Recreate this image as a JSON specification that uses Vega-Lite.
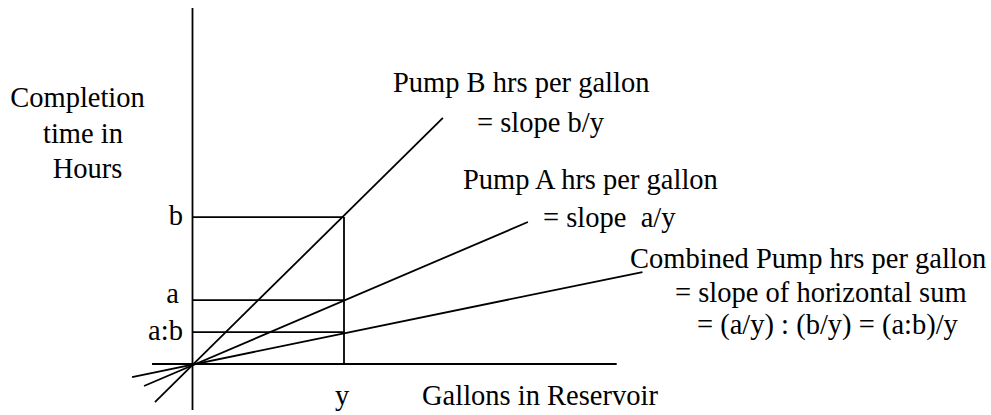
{
  "$schema": "https://vega.github.io/schema/vega-lite/v6.json",
  "width": 991,
  "height": 415,
  "autosize": {"type": "fit", "contains": "padding"},
  "padding": 0,
  "background": "white",
  "config": {"view": {"stroke": null}},
  "datasets": {
    "segments": [
      {"name": "vertical axis", "x": 0, "x2": 0, "y": 23.5, "y2": -3.04},
      {"name": "horizontal axis", "x": -2.67, "x2": 28.0, "y": 0, "y2": 0},
      {"name": "b level", "x": 0, "x2": 10, "y": 9.7, "y2": 9.7},
      {"name": "a level", "x": 0, "x2": 10, "y": 4.22, "y2": 4.22},
      {"name": "a:b level", "x": 0, "x2": 10, "y": 2.11, "y2": 2.11},
      {"name": "y gallons", "x": 10, "x2": 10, "y": 0, "y2": 9.7},
      {"name": "Pump B", "x": -2.48, "x2": 16.53, "y": -2.51, "y2": 16.24},
      {"name": "Pump A", "x": -3.2, "x2": 22.14, "y": -1.45, "y2": 9.37},
      {"name": "Combined", "x": -3.99, "x2": 29.7, "y": -0.86, "y2": 6.07}
    ],
    "centerLabels": [
      {"label": "Completion", "x": -7.59, "y": 16.96},
      {"label": "time in", "x": -7.23, "y": 14.59},
      {"label": "Hours", "x": -6.93, "y": 12.28},
      {"label": "y", "x": 9.87, "y": -2.71}
    ],
    "rightLabels": [
      {"label": "b", "x": -0.63, "y": 9.17},
      {"label": "a", "x": -0.89, "y": 4.03},
      {"label": "a:b", "x": -0.63, "y": 1.58}
    ],
    "leftLabels": [
      {"label": "Gallons in Reservoir", "x": 15.15, "y": -2.71},
      {"label": "Pump B hrs per gallon", "x": 13.23, "y": 17.95},
      {"label": "= slope b/y", "x": 18.78, "y": 15.31},
      {"label": "Pump A hrs per gallon", "x": 17.85, "y": 11.55},
      {"label": "= slope \u00a0a/y", "x": 23.14, "y": 9.04},
      {"label": "Combined Pump hrs per gallon", "x": 28.88, "y": 6.34},
      {"label": "= slope of horizontal sum", "x": 31.85, "y": 4.09},
      {"label": "= (a/y) : (b/y) = (a:b)/y", "x": 33.3, "y": 1.98}
    ]
  },
  "layer": [
    {
      "data": {"name": "segments"},
      "mark": {"type": "rule", "color": "black", "strokeWidth": 1.8},
      "encoding": {
        "x": {"field": "x", "type": "quantitative", "scale": {"domain": [-12.706, 52.706], "nice": false, "zero": false}, "axis": null},
        "x2": {"field": "x2"},
        "y": {"field": "y", "type": "quantitative", "scale": {"domain": [-3.366, 24.026], "nice": false, "zero": false}, "axis": null},
        "y2": {"field": "y2"}
      }
    },
    {
      "data": {"name": "centerLabels"},
      "mark": {"type": "text", "align": "center", "baseline": "alphabetic", "font": "Liberation Serif", "fontSize": 28.5, "color": "black"},
      "encoding": {
        "x": {"field": "x", "type": "quantitative"},
        "y": {"field": "y", "type": "quantitative"},
        "text": {"field": "label"}
      }
    },
    {
      "data": {"name": "rightLabels"},
      "mark": {"type": "text", "align": "right", "baseline": "alphabetic", "font": "Liberation Serif", "fontSize": 28.5, "color": "black"},
      "encoding": {
        "x": {"field": "x", "type": "quantitative"},
        "y": {"field": "y", "type": "quantitative"},
        "text": {"field": "label"}
      }
    },
    {
      "data": {"name": "leftLabels"},
      "mark": {"type": "text", "align": "left", "baseline": "alphabetic", "font": "Liberation Serif", "fontSize": 28.5, "color": "black"},
      "encoding": {
        "x": {"field": "x", "type": "quantitative"},
        "y": {"field": "y", "type": "quantitative"},
        "text": {"field": "label"}
      }
    }
  ]
}
